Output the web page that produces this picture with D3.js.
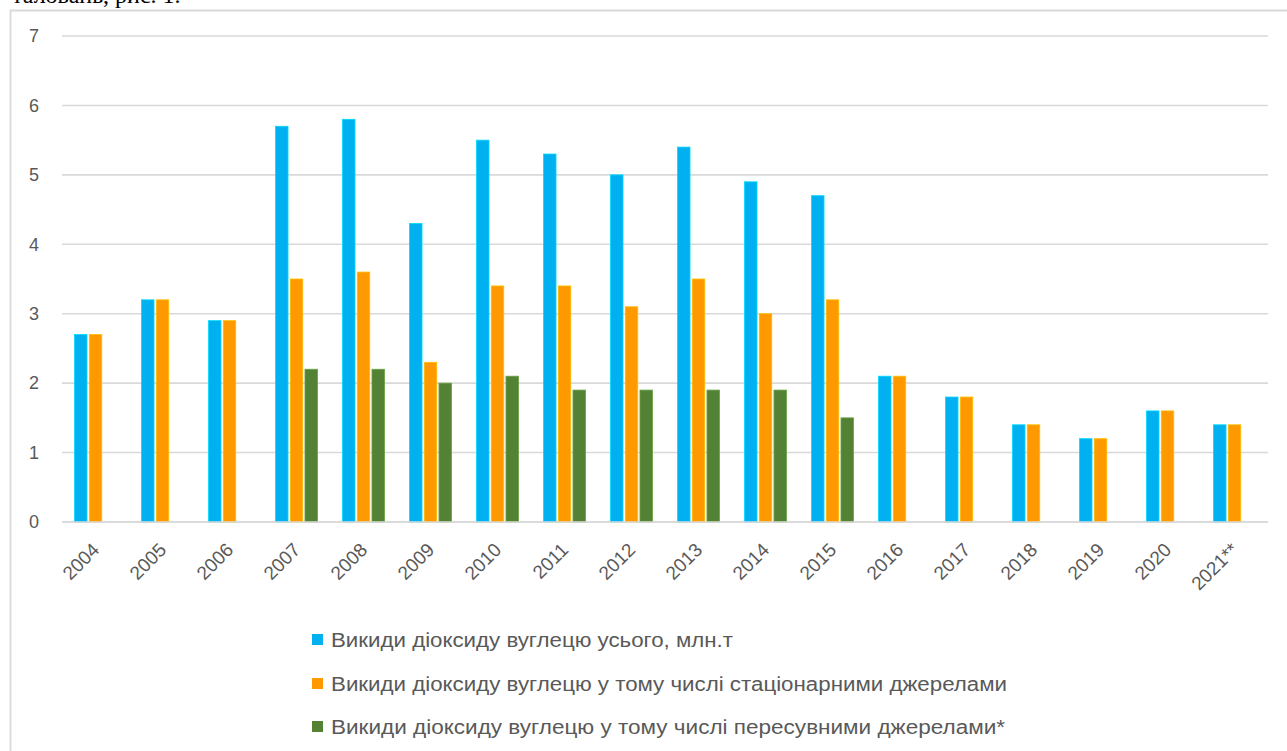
<!DOCTYPE html>
<html><head><meta charset="utf-8">
<script src="https://cdn.jsdelivr.net/npm/d3@7"></script>
<style>html,body{margin:0;padding:0;background:#fff;overflow:hidden}</style>
</head><body>
<svg id="c" width="1287" height="751"></svg>
<script>
const years = ["2004","2005","2006","2007","2008","2009","2010","2011","2012","2013","2014","2015","2016","2017","2018","2019","2020","2021**"];
const totalVals = [2.7,3.2,2.9,5.7,5.8,4.3,5.5,5.3,5.0,5.4,4.9,4.7,2.1,1.8,1.4,1.2,1.6,1.4];
const stationaryVals = [2.7,3.2,2.9,3.5,3.6,2.3,3.4,3.4,3.1,3.5,3.0,3.2,2.1,1.8,1.4,1.2,1.6,1.4];
const mobileVals = [null,null,null,2.2,2.2,2.0,2.1,1.9,1.9,1.9,1.9,1.5,null,null,null,null,null,null];
const seriesNames = ["Викиди діоксиду вуглецю усього, млн.т","Викиди діоксиду вуглецю у тому числі стаціонарними джерелами","Викиди діоксиду вуглецю у тому числі пересувними джерелами*"];
const seriesColors = ["#00B0F0","#FF9900","#548235"];
const yTicks = [0,1,2,3,4,5,6,7];

const svg = d3.select("#c");
const font = "'Liberation Sans', Arial, sans-serif";

// frame
svg.append("path").attr("d","M10.5,760 L10.5,10.5 L1300,10.5").attr("fill","none").attr("stroke","#d9d9d9").attr("stroke-width",1.8);
// cut-off caption text above frame
svg.append("text").attr("x",12).attr("y",3).attr("font-family","'Liberation Serif', 'Times New Roman', serif").attr("font-size",24).attr("fill","#000").text("таловань, рис. 1.");

const x0 = d3.scaleBand().domain(years).range([62,1268]).paddingInner(0.373).paddingOuter(0.1865);
const x1 = d3.scaleBand().domain([0,1,2]).range([0,x0.bandwidth()]).paddingInner(0.15);
const y = d3.scaleLinear().domain([0,7]).range([522,36]);

// grid
const g = svg.append("g");
g.selectAll("line.grid").data(yTicks).join("line")
  .attr("x1",62).attr("x2",1268).attr("y1",d=>y(d)).attr("y2",d=>y(d))
  .attr("stroke","#d9d9d9").attr("stroke-width",1.6);
g.selectAll("text.yl").data(yTicks).join("text")
  .attr("x",39).attr("y",d=>y(d)).attr("dy","0.35em").attr("text-anchor","end")
  .attr("font-family",font).attr("font-size",18).attr("fill","#595959").text(d=>d);

const allVals = [totalVals, stationaryVals, mobileVals];
allVals.forEach((vals,si)=>{
  svg.append("g").selectAll("rect").data(years.map((yr,i)=>({yr,v:vals[i]})).filter(d=>d.v!=null)).join("rect")
    .attr("x",d=>x0(d.yr)+x1(si)).attr("width",x1.bandwidth())
    .attr("y",d=>y(d.v)).attr("height",d=>y(0)-y(d.v))
    .attr("fill",seriesColors[si])
    .attr("stroke",d3.color(seriesColors[si]).brighter(0.6)).attr("stroke-width",0.8);
});
// baseline redraw
svg.append("line").attr("x1",62).attr("x2",1268).attr("y1",y(0)).attr("y2",y(0)).attr("stroke","#d9d9d9").attr("stroke-width",1.6);

// x labels
svg.append("g").selectAll("text").data(years).join("text")
  .attr("transform",d=>`translate(${x0(d)+x0.bandwidth()/2+5},${551}) rotate(-45)`)
  .attr("text-anchor","end").attr("font-family",font).attr("font-size",19).attr("fill","#595959").text(d=>d);

// legend
const legY = [640,684,727];
const legW = [402,676,674];
const leg = svg.append("g");
seriesNames.forEach((n,i)=>{
  leg.append("rect").attr("x",312).attr("y",legY[i]-6).attr("width",11).attr("height",11).attr("fill",seriesColors[i]);
  leg.append("text").attr("x",331).attr("y",legY[i]).attr("dy","0.35em")
    .attr("font-family",font).attr("font-size",19.5).attr("fill","#595959")
    .attr("textLength",legW[i]).attr("lengthAdjust","spacingAndGlyphs").text(n);
});
</script>
</body></html>
